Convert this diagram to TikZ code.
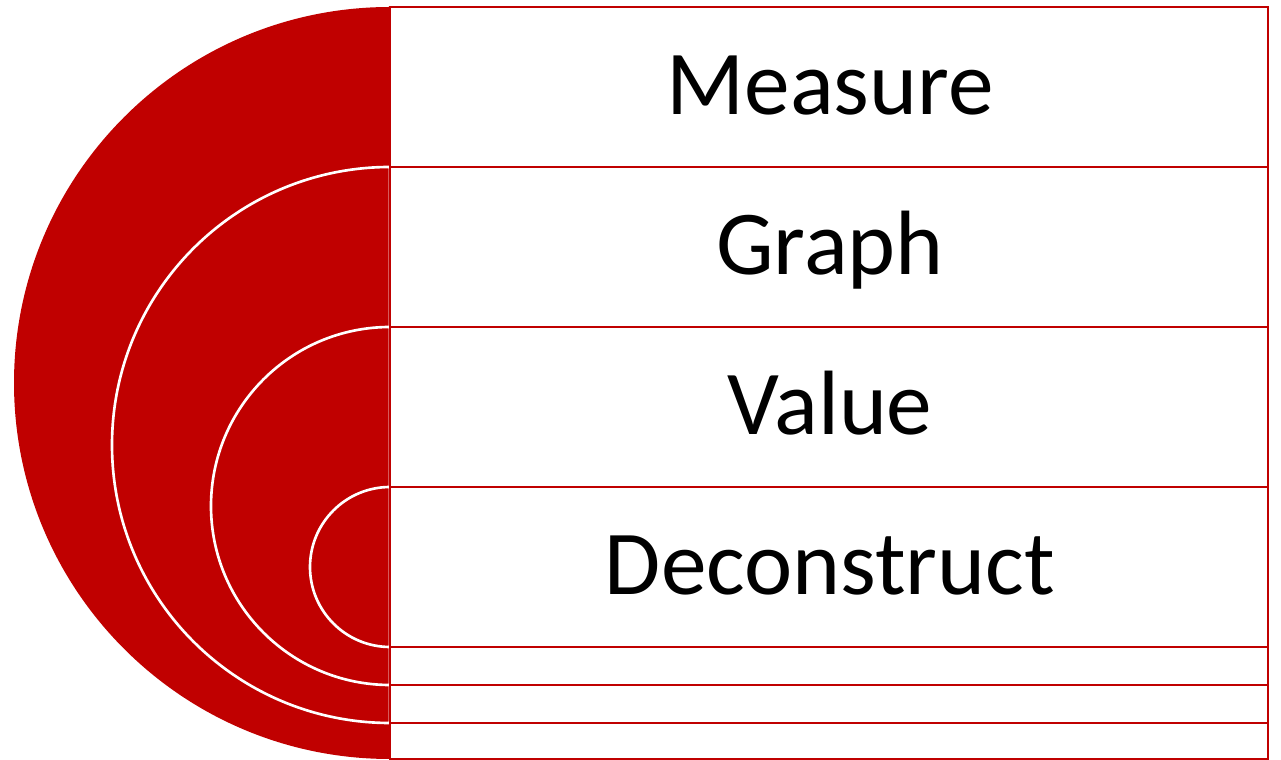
\documentclass[tikz,border=0pt]{standalone}
\usepackage{fontspec}
\setmainfont{Carlito}
\definecolor{deepred}{HTML}{C00000}
\begin{document}
\begin{tikzpicture}[
  x=0.02cm, y=0.02cm,
  band/.style={fill=deepred, draw=white, line width=1.5pt},
  box/.style={fill=white, draw=deepred, line width=1.6pt},
  word/.style={font=\fontsize{52}{60}\selectfont, inner sep=0pt, anchor=base}
]
  \useasboundingbox (0,0) rectangle (1281,760);

  % half discs on the left
  \fill[deepred] (390,753) arc (90:270:376) -- cycle;
  \draw[band] (390,593) arc (90:270:278) -- cycle;
  \draw[band] (390,433) arc (90:270:179) -- cycle;
  \draw[band] (390,273) arc (90:270:80) -- cycle;

  % boxes, outer one first
  \draw[box] (390,1) rectangle (1268,753);
  \draw[box] (390,37) rectangle (1268,593);
  \draw[box] (390,75) rectangle (1268,433);
  \draw[box] (390,113) rectangle (1268,273);

  \node[word] (measure) at (830,645) {Measure};
  \node[word] (graph) at (830,485) {Graph};
  \node[word] (value) at (830,325) {Value};
  \node[word] (deconstruct) at (830,165) {Deconstruct};
\end{tikzpicture}
\end{document}
